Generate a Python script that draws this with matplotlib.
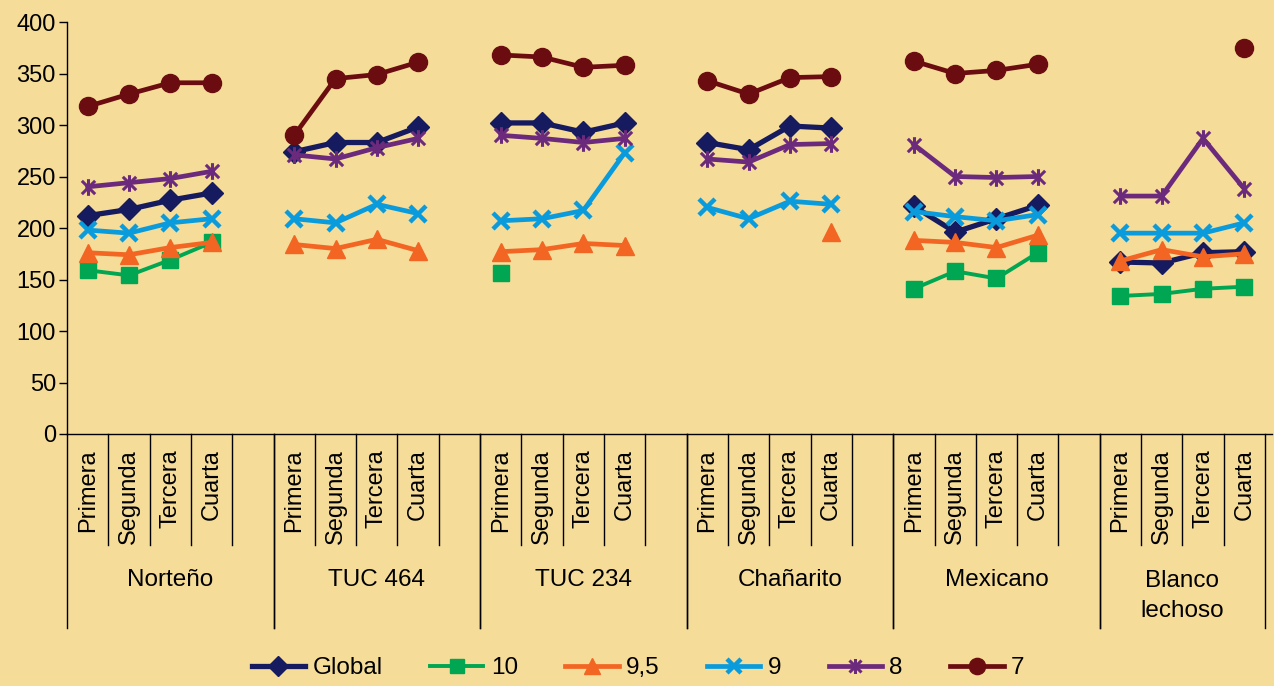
import numpy as np
import matplotlib
matplotlib.use("Agg")
import matplotlib.pyplot as plt
from matplotlib.path import Path
from matplotlib.transforms import blended_transform_factory

plt.rcParams['font.family'] = ['Liberation Sans', 'DejaVu Sans']

# ---- data -------------------------------------------------------------
groups = ["Norteño", "TUC 464", "TUC 234", "Chañarito", "Mexicano", "Blanco\nlechoso"]
quarters = ["Primera", "Segunda", "Tercera", "Cuarta"]
nan = np.nan

global_vals = [212, 218, 227, 234,  274, 283, 283, 298,  302, 302, 293, 302,
               283, 276, 299, 297,  221, 196, 209, 222,  167, 166, 176, 177]
s10 = [159, 154, 169, 186,  nan, nan, nan, nan,  156, nan, nan, nan,
       nan, nan, nan, nan,  141, 158, 151, 176,  134, 136, 141, 143]
s95 = [176, 174, 181, 186,  184, 180, 189, 178,  177, 179, 185, 183,
       nan, nan, nan, 196,  188, 186, 181, 193,  168, 179, 172, 175]
s9 = [198, 195, 205, 209,  209, 205, 223, 214,  207, 209, 217, 273,
      220, 209, 226, 223,  216, 211, 207, 213,  195, 195, 195, 205]
s8 = [240, 244, 248, 255,  271, 267, 278, 287,  290, 287, 283, 287,
      267, 264, 281, 282,  281, 250, 249, 250,  231, 231, 287, 238]
s7 = [318, 330, 341, 341,  290, 345, 349, 361,  368, 366, 356, 358,
      343, 330, 346, 347,  362, 350, 353, 359,  nan, nan, nan, 375]

series_names = ["Global", "10", "9,5", "9", "8", "7"]
series_vals = [global_vals, s10, s95, s9, s8, s7]

# ---- styles -----------------------------------------------------------
bg = "#F5DC98"
star = Path([(-1, -1), (1, 1), (-1, 1), (1, -1), (0, -1.25), (0, 1.25)],
            [Path.MOVETO, Path.LINETO, Path.MOVETO, Path.LINETO, Path.MOVETO, Path.LINETO])
styles = [
    dict(color="#161A5E", marker="D", ms=11, lw=3.8, mfc="#161A5E", mec="#161A5E"),
    dict(color="#00A651", marker="s", ms=11.5, lw=2.8, mfc="#00A651", mec="#00A651"),
    dict(color="#F26522", marker="^", ms=13, lw=3.4, mfc="#F26522", mec="#F26522"),
    dict(color="#0A9BDC", marker="x", ms=11, lw=3.4, mew=3.2, mec="#0A9BDC"),
    dict(color="#6C2A7C", marker=star, ms=12, lw=3.4, mew=2.2, mfc="none", mec="#6C2A7C"),
    dict(color="#6B0D10", marker="o", ms=13, lw=3.4, mfc="#6B0D10", mec="#6B0D10"),
]

# ---- x layout: 4 quarters + 1 blank slot per group (no blank after last) ----
n_groups = len(groups)
xs = []
for g in range(n_groups):
    xs.extend([g * 5 + k for k in range(4)])
xs = np.array(xs, dtype=float)
n_slots = n_groups * 5 - 1


def with_gaps(vals):
    """Insert NaN in the blank slot between groups so lines break."""
    x_out, y_out = [], []
    for g in range(n_groups):
        x_out.extend(xs[g * 4:(g + 1) * 4])
        y_out.extend(vals[g * 4:(g + 1) * 4])
        if g < n_groups - 1:
            x_out.append(g * 5 + 4)
            y_out.append(nan)
    return np.array(x_out), np.array(y_out, dtype=float)


fig = plt.figure(figsize=(12.74, 6.86), dpi=100, facecolor=bg)
ax = fig.add_axes([67 / 1274, 1 - 434 / 686, (1272 - 67) / 1274, 412 / 686])
ax.set_facecolor(bg)

handles = []
for name, vals, st in zip(series_names, series_vals, styles):
    x, y = with_gaps(vals)
    st = dict(st)
    h, = ax.plot(x, y, label=name, color=st.pop("color"), marker=st.pop("marker"),
                 markersize=st.pop("ms"), linewidth=st.pop("lw"),
                 markeredgewidth=st.pop("mew", 1.0), markerfacecolor=st.pop("mfc", "none"),
                 markeredgecolor=st.pop("mec"), clip_on=False)
    handles.append(h)

slot_px = (1265 - 67) / n_slots
ax.set_xlim(-0.5, -0.5 + (1272 - 67) / slot_px)
ax.set_ylim(0, 400)
ax.set_yticks(np.arange(0, 401, 50))
ax.tick_params(axis="y", direction="out", length=6, width=1, labelsize=17, pad=2)
ax.set_xticks([])
for s in ["top", "right"]:
    ax.spines[s].set_visible(False)
ax.spines["left"].set_linewidth(1)
ax.spines["bottom"].set_linewidth(1)

# category separators and labels below the axis
trans = blended_transform_factory(ax.transData, ax.transAxes)
short_y = -(545 - 434) / 412
long_y = -(628 - 434) / 412
for g in range(n_groups):
    base = g * 5
    n_b = 5 if g < n_groups - 1 else 4
    for k in range(n_b + 1):
        bx = base + k - 0.5
        bottom = long_y if k in (0, n_b) else short_y
        ax.plot([bx, bx], [0, bottom], color="black", lw=1, transform=trans, clip_on=False)
    for k, q in enumerate(quarters):
        ax.text(base + k, -(449 - 434) / 412, q, rotation=90, ha="center", va="top",
                fontsize=17, transform=trans)
    cx = base + (n_b - 1) / 2
    label_y = -(596 - 434) / 412 if "\n" in groups[g] else -(580 - 434) / 412
    ax.text(cx, label_y, groups[g], ha="center", va="center", fontsize=17.5,
            linespacing=1.45, transform=trans)

fig.legend(handles=handles, loc="center", bbox_to_anchor=(638 / 1274, 1 - 668 / 686),
           ncol=6, frameon=False, fontsize=17.5, handlelength=2.2, handletextpad=0.3,
           columnspacing=1.95, markerscale=0.9)

fig.savefig("out.png", dpi=100, facecolor=bg)
